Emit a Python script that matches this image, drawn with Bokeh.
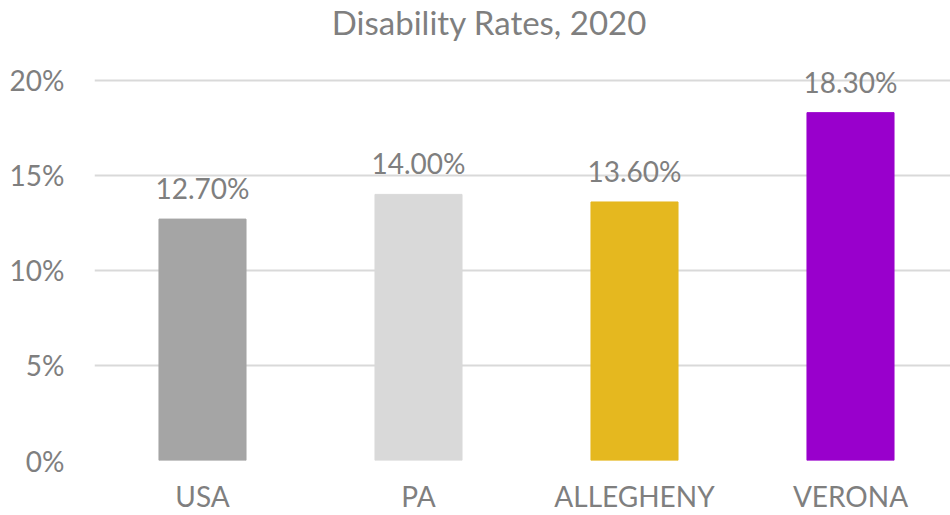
from bokeh.plotting import figure
from bokeh.models import Range1d, FixedTicker, NumeralTickFormatter, ColumnDataSource
from bokeh.core.properties import value
from bokeh.embed import file_html
from bokeh.resources import INLINE

categories = ["USA", "PA", "ALLEGHENY", "VERONA"]
rates = [0.127, 0.140, 0.136, 0.183]
rate_labels = ["12.70%", "14.00%", "13.60%", "18.30%"]
colors = ["#a5a5a5", "#d9d9d9", "#e5b81f", "#9900cc"]
y_ticks = [0.0, 0.05, 0.10, 0.15, 0.20]
title_text = "Disability Rates, 2020"

FONT = "Lato"
TXT = "#7f7f7f"

# layout (pixels)
W, H = 950, 515
LEFT, BOTTOM = 94, 54
PX_PER_UNIT_Y = 1905.0   # pixels per 100% on the y axis
PX_PER_CAT = 216.0       # pixels per category
frame_h = H - BOTTOM
frame_w = W - LEFT
y_end = frame_h / PX_PER_UNIT_Y
x_end = frame_w / PX_PER_CAT

xpos = [i + 0.5 for i in range(len(categories))]
src = ColumnDataSource(dict(x=xpos, top=rates, color=colors, label=rate_labels))

p = figure(width=W, height=H, output_backend="svg", toolbar_location=None,
           x_range=Range1d(0, x_end), y_range=Range1d(0, y_end))
p.min_border_left = LEFT
p.min_border_right = 0
p.min_border_top = 0
p.min_border_bottom = BOTTOM
p.outline_line_color = None
p.background_fill_color = "white"
p.border_fill_color = "white"

# chart title, centred at (489, 22) px in the canvas
title_x = (489 - LEFT) / PX_PER_CAT
title_y = y_end - 22 / PX_PER_UNIT_Y
p.text(x=[title_x], y=[title_y], text=[title_text], text_align="center",
       text_baseline="middle", text_font=value(FONT), text_font_size="33px",
       text_color=TXT)

p.vbar(x="x", top="top", width=0.403, bottom=0, color="color", source=src)
p.text(x="x", y="top", text="label", source=src, text_align="center",
       text_baseline="bottom", y_offset=-14, text_font=value(FONT),
       text_font_size="28px", text_color=TXT)

p.xgrid.grid_line_color = None
p.ygrid.grid_line_color = "#d9d9d9"
p.ygrid.grid_line_width = 2
p.ygrid.ticker = FixedTicker(ticks=y_ticks)

p.yaxis.ticker = FixedTicker(ticks=y_ticks)
p.yaxis.formatter = NumeralTickFormatter(format="0%")
p.xaxis.ticker = FixedTicker(ticks=xpos)
p.xaxis.major_label_overrides = {x: c for x, c in zip(xpos, categories)}

for ax in (p.xaxis[0], p.yaxis[0]):
    ax.axis_line_color = None
    ax.major_tick_line_color = None
    ax.minor_tick_line_color = None
    ax.major_label_text_font = FONT
    ax.major_label_text_font_size = "28px"
    ax.major_label_text_color = TXT
p.yaxis.major_label_standoff = 24
p.xaxis.major_label_standoff = 12

open("out.html", "w").write(file_html(p, INLINE))
